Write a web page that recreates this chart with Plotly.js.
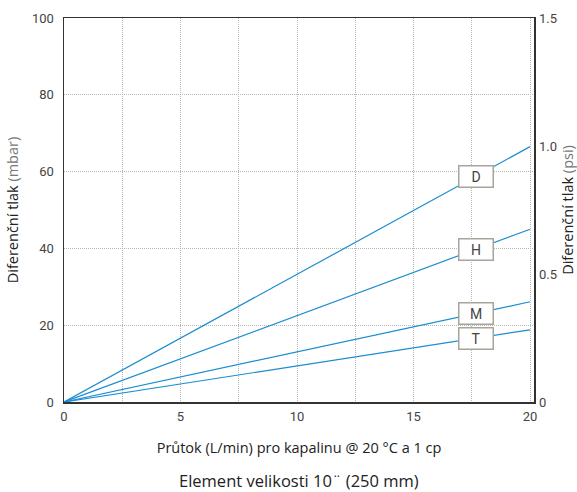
<!DOCTYPE html>
<html><head><meta charset="utf-8">
<script src="https://cdn.plot.ly/plotly-3.0.1.min.js"></script>
<style>body{margin:0;background:#fff}#c{width:577px;height:492px}</style>
</head><body><div id="c"></div>
<script>
const flow = [0, 20];
const seriesNames = ['D', 'H', 'M', 'T'];
const dEnd = [0, 66.5];
const hEnd = [0, 45.0];
const mEnd = [0, 26.1];
const tEnd = [0, 18.8];
const labelFlow = 17.7;
const xTicks = [0, 5, 10, 15, 20];
const yTicks = [0, 20, 40, 60, 80, 100];
const y2Ticks = [0, 0.5, 1.0, 1.5];
const y2TickText = ['0', '0.5', '1.0', '1.5'];

const series = [dEnd, hEnd, mEnd, tEnd];
const blue = '#1b8dcf';
const traces = series.map((s, i) => ({
  x: flow, y: s, mode: 'lines', name: seriesNames[i],
  line: {color: blue, width: 1.2}, hoverinfo: 'skip'
}));
traces.push({x: [0], y: [0], yaxis: 'y2', mode: 'markers', marker: {opacity: 0}, showlegend: false, hoverinfo: 'skip'});

const annotations = series.map((s, i) => ({
  x: labelFlow, y: s[0] + (s[1] - s[0]) * (labelFlow - flow[0]) / (flow[1] - flow[0]),
  xref: 'x', yref: 'y', text: seriesNames[i], showarrow: false,
  font: {family: 'Roboto, sans-serif', size: 14, color: '#444'},
  bgcolor: '#fff', bordercolor: '#a8a39b', borderwidth: 1.5, borderpad: 1,
  width: 31, height: 18, align: 'center'
}));
annotations.push({
  xref: 'paper', yref: 'paper', x: 0.5, y: -0.205, xanchor: 'center', yanchor: 'middle',
  text: 'Element velikosti 10¨ (250 mm)', showarrow: false,
  font: {family: 'Open Sans, sans-serif', size: 16.5, color: '#222'}
});

const tickFont = {family: 'Roboto, sans-serif', size: 13, color: '#444'};
const gridCol = '#b8b8b8';
const gridDash = '1px,1px';
const layout = {
  width: 577, height: 492,
  margin: {l: 64, r: 43, t: 18, b: 90},
  paper_bgcolor: '#fff', plot_bgcolor: '#fff',
  showlegend: false,
  xaxis: {
    range: [0, 20.17], tickvals: xTicks, ticktext: xTicks.map(String), tickfont: tickFont,
    showgrid: true, gridcolor: gridCol, griddash: gridDash, gridwidth: 1,
    minor: {dtick: 2.5, tick0: 0, showgrid: true, gridcolor: gridCol, griddash: gridDash, gridwidth: 1},
    showline: true, linecolor: '#333', linewidth: 1.5, mirror: true,
    ticks: '', ticklabelstandoff: 2, zeroline: false,
    title: {text: 'Průtok (L/min) pro kapalinu @ 20 °C a 1 cp', standoff: 20,
      font: {family: 'Open Sans, sans-serif', size: 14.5, color: '#222'}}
  },
  yaxis: {
    range: [0, 100], tickvals: yTicks, tickfont: tickFont,
    showgrid: true, gridcolor: gridCol, griddash: gridDash, gridwidth: 1,
    showline: true, linecolor: '#333', linewidth: 1.5, mirror: true,
    ticks: '', ticklabelstandoff: 6, zeroline: false,
    title: {text: 'Diferenční tlak <span style="color:#777">(mbar)</span>', standoff: 10,
      font: {family: 'Open Sans, sans-serif', size: 14.5, color: '#222'}}
  },
  yaxis2: {
    overlaying: 'y', side: 'right', range: [0, 1.5], tickvals: y2Ticks, ticktext: y2TickText,
    tickfont: tickFont, showgrid: false, zeroline: false, showline: false, ticks: '',
    ticklabelstandoff: 4,
    title: {text: 'Diferenční tlak <span style="color:#777">(psi)</span>', standoff: 6,
      font: {family: 'Open Sans, sans-serif', size: 14.5, color: '#222'}}
  },
  annotations: annotations
};
Plotly.newPlot('c', traces, layout, {staticPlot: true, displayModeBar: false});
</script></body></html>
